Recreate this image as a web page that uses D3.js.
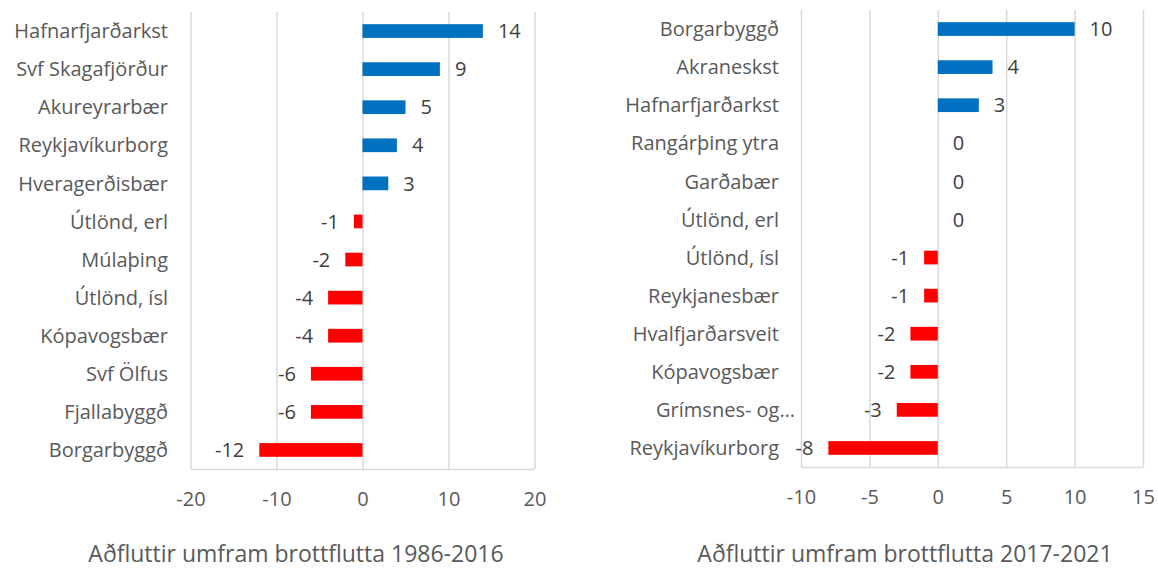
<!DOCTYPE html>
<html>
<head>
<meta charset="utf-8">
<script src="https://cdn.jsdelivr.net/npm/d3@7"></script>
<style>
  body { margin: 0; background: #fff; }
  svg { font-family: "Open Sans", "Noto Sans", sans-serif; }
</style>
</head>
<body>
<div id="chart"></div>
<script>
// data
var leftCategories = ["Hafnarfjarðarkst", "Svf Skagafjörður", "Akureyrarbær", "Reykjavíkurborg",
  "Hveragerðisbær", "Útlönd, erl", "Múlaþing", "Útlönd, ísl", "Kópavogsbær", "Svf Ölfus",
  "Fjallabyggð", "Borgarbyggð"];
var leftValues = [14, 9, 5, 4, 3, -1, -2, -4, -4, -6, -6, -12];
var leftTicks = [-20, -10, 0, 10, 20];
var leftTitle = "Aðfluttir umfram brottflutta 1986-2016";

var rightCategories = ["Borgarbyggð", "Akraneskst", "Hafnarfjarðarkst", "Rangárþing ytra",
  "Garðabær", "Útlönd, erl", "Útlönd, ísl", "Reykjanesbær", "Hvalfjarðarsveit", "Kópavogsbær",
  "Grímsnes- og…", "Reykjavíkurborg"];
var rightValues = [10, 4, 3, 0, 0, 0, -1, -1, -2, -2, -3, -8];
var rightTicks = [-10, -5, 0, 5, 10, 15];
var rightTitle = "Aðfluttir umfram brottflutta 2017-2021";

var textColor = "#595959",
  gridColor = "#d9d9d9",
  posColor = "#0070c0",
  negColor = "#ff0000";

var svg = d3.select("#chart")
  .append("svg")
    .attr("width", 1158)
    .attr("height", 569);

// draws one horizontal bar chart
function drawChart(cfg) {
  var g = svg.append("g");

  var x = d3.scaleLinear()
    .domain(d3.extent(cfg.ticks))
    .range([cfg.left, cfg.right]);

  var y = d3.scaleBand()
    .domain(cfg.categories)
    .range([cfg.top, cfg.bottom])
    .paddingInner(0.64)
    .paddingOuter(0.32);

  // gridlines + tick labels
  var axis = g.append("g")
    .attr("transform", "translate(0," + cfg.bottom + ")")
    .call(d3.axisBottom(x)
      .tickValues(cfg.ticks)
      .tickFormat(function(d) { return String(d); })
      .tickSizeInner(-(cfg.bottom - cfg.top))
      .tickSizeOuter(0)
      .tickPadding(23));
  axis.attr("font-family", null);
  axis.select(".domain")
    .attr("stroke", gridColor)
    .attr("stroke-width", 1.5);
  axis.selectAll(".tick line")
    .attr("stroke", gridColor)
    .attr("stroke-width", 1.5);
  axis.selectAll(".tick text")
    .attr("fill", textColor)
    .style("font-size", "20px");

  var rows = cfg.categories.map(function(c, i) { return {cat: c, val: cfg.values[i]}; });

  // bars
  g.selectAll(".bar")
    .data(rows)
    .enter()
    .append("rect")
      .attr("class", "bar")
      .attr("x", function(d) { return x(Math.min(0, d.val)); })
      .attr("y", function(d) { return y(d.cat); })
      .attr("width", function(d) { return Math.abs(x(d.val) - x(0)); })
      .attr("height", y.bandwidth())
      .attr("fill", function(d) { return d.val < 0 ? negColor : posColor; });

  // value labels
  g.selectAll(".val")
    .data(rows)
    .enter()
    .append("text")
      .attr("class", "val")
      .attr("x", function(d) { return d.val < 0 ? x(d.val) - 15 : x(d.val) + 15; })
      .attr("y", function(d) { return y(d.cat) + y.bandwidth() / 2; })
      .attr("dy", "0.36em")
      .attr("text-anchor", function(d) { return d.val < 0 ? "end" : "start"; })
      .attr("fill", "#404040")
      .style("font-size", "20px")
      .text(function(d) { return d.val; });

  // category labels
  g.selectAll(".cat")
    .data(rows)
    .enter()
    .append("text")
      .attr("class", "cat")
      .attr("x", function(d) { return cfg.labelX + (d.cat.slice(-1) == "…" ? 16 : 0); })
      .attr("y", function(d) { return y(d.cat) + y.bandwidth() / 2; })
      .attr("dy", "0.36em")
      .attr("text-anchor", "end")
      .attr("fill", textColor)
      .style("font-size", "20px")
      .text(function(d) { return d.cat; });

  // title under the axis
  g.append("text")
    .attr("x", cfg.titleX)
    .attr("y", 562)
    .attr("text-anchor", "middle")
    .attr("fill", textColor)
    .style("font-size", "23px")
    .text(cfg.title);
}

drawChart({
  categories: leftCategories, values: leftValues, ticks: leftTicks, title: leftTitle,
  left: 190.5, right: 534.5, top: 12, bottom: 469, labelX: 168, titleX: 296
});

drawChart({
  categories: rightCategories, values: rightValues, ticks: rightTicks, title: rightTitle,
  left: 801, right: 1143, top: 10, bottom: 467, labelX: 779, titleX: 905
});
</script>
</body>
</html>
